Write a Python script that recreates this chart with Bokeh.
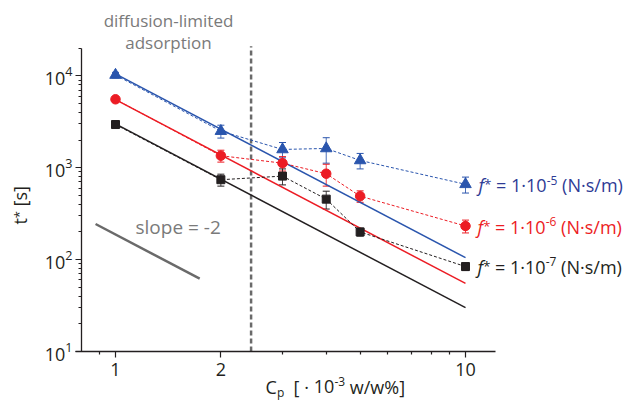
import math
from bokeh.plotting import figure
from bokeh.models import (Range1d, FixedTicker, PrintfTickFormatter, LogTickFormatter,
                          Whisker, ColumnDataSource, Label, TeeHead)
from bokeh.embed import file_html
from bokeh.resources import INLINE

# ---------------- data ----------------
conc = [1, 2, 3, 4, 5, 10]                       # C_p [1e-3 w/w%]
t_f5 = [10200, 2500, 1580, 1620, 1200, 660]      # f* = 1e-5 N s/m
t_f5_err = [700, 400, 300, 500, 230, 130]
t_f6 = [5550, 1350, 1120, 860, 490, 232]         # f* = 1e-6 N s/m
t_f6_err = [300, 200, 200, 230, 70, 37]
t_f7 = [2950, 740, 810, 455, 200, 84]            # f* = 1e-7 N s/m
t_f7_err = [150, 110, 160, 100, 20, 8]

fit_x = [1, 10]                                  # slope -2 fits
fit_f5 = [10500, 105]
fit_f6 = [5500, 55]
fit_f7 = [3000, 30]

slope_x = [0.877, 1.74]                          # slope = -2 guide
slope_y = [244, 62]

diff_limit_x = [2.44, 2.44]                      # diffusion-limited boundary
diff_limit_y = [10, 21000]

x_ticks = [1, 2, 10]
x_minor = [0.9, 3, 4, 5, 6, 7, 8, 9]
y_ticks = [10, 100, 1000, 10000]
y_minor = [m * d for d in (10, 100, 1000) for m in range(2, 10)] + [20000]

# ---------------- layout (pixels) ----------------
W, H = 629, 402
AXIS_X_PX, AXIS_Y_PX = 81, 351   # y-axis at x pixel, x-axis at y pixel
X1_PX, PXD_X = 115, 350.0        # pixel of x=1, pixels per decade
PXD_Y = 91.9                     # pixels per decade (y), y=10 at AXIS_Y_PX

def dx(px):
    return 10 ** ((px - X1_PX) / PXD_X)

def dy(py):
    return 10 ** (1 + (AXIS_Y_PX - py) / PXD_Y)

FONT = "Open Sans"
BLUE, RED, BLACK, GRAY = "#2a55ad", "#ec1c24", "#231f20", "#7a7a7a"
BLUE_TXT = "#2e3b95"

p = figure(width=W, height=H, x_axis_type="log", y_axis_type="log",
           x_range=Range1d(dx(0), dx(W)), y_range=Range1d(dy(H), dy(0)),
           output_backend="svg", toolbar_location=None,
           min_border_left=0, min_border_right=0, min_border_top=0, min_border_bottom=0)
p.outline_line_color = None
p.xgrid.visible = False
p.ygrid.visible = False

for ax in (p.xaxis, p.yaxis):
    ax.axis_line_color = BLACK
    ax.axis_line_width = 1.3
    ax.major_tick_line_color = BLACK
    ax.minor_tick_line_color = BLACK
    ax.major_tick_line_width = 1.2
    ax.minor_tick_line_width = 1.2
    ax.major_tick_in = 0
    ax.major_tick_out = 6
    ax.minor_tick_in = 0
    ax.minor_tick_out = 3
    ax.major_label_text_font = FONT
    ax.major_label_text_font_size = "18px"
    ax.major_label_text_color = BLACK

p.xaxis.fixed_location = dy(AXIS_Y_PX)
p.yaxis.fixed_location = dx(AXIS_X_PX)
p.xaxis.bounds = (0.77, 12.2)
p.yaxis.bounds = (10, 20000)
p.xaxis.ticker = FixedTicker(ticks=x_ticks, minor_ticks=x_minor)
p.yaxis.ticker = FixedTicker(ticks=y_ticks, minor_ticks=y_minor)
p.xaxis.formatter = PrintfTickFormatter(format="%d")
p.yaxis.formatter = LogTickFormatter()
p.xaxis.major_label_standoff = 5
p.yaxis.major_label_standoff = 3

# diffusion-limited boundary
p.line(diff_limit_x, diff_limit_y, line_color="#6a6a6a", line_width=2.5, line_dash="5 3")
# slope guide
p.line(slope_x, slope_y, line_color="#6a6a6a", line_width=2.5)

series = [
    (t_f5, t_f5_err, fit_f5, BLUE, "triangle", 11.5),
    (t_f6, t_f6_err, fit_f6, RED, "circle", 9.5),
    (t_f7, t_f7_err, fit_f7, BLACK, "square", 8),
]
for t, err, fit, col, mk, sz in series:
    p.line(fit_x, fit, line_color=col, line_width=1.5)
    p.line(conc, t, line_color=col, line_width=1, line_dash="3 2")
    src = ColumnDataSource(dict(x=conc, y=t,
                                up=[a + b for a, b in zip(t, err)],
                                lo=[a - b for a, b in zip(t, err)]))
    wk = Whisker(source=src, base="x", upper="up", lower="lo",
                 line_color=col, line_width=1, line_alpha=0.85,
                 upper_head=TeeHead(size=7, line_color=col, line_width=1),
                 lower_head=TeeHead(size=7, line_color=col, line_width=1))
    wk.level = "underlay"
    p.add_layout(wk)
    p.scatter(conc, t, marker=mk, size=sz, fill_color=col, line_color=col)

# ---------------- text ----------------
EM = {" ": .26, "=": .572, "1": .572, "0": .572, "2": .572, "3": .572, "5": .572,
      "6": .572, "7": .572, "·": .266, "(": .297, ")": .297, "N": .742, "s": .494,
      "/": .361, "m": .936, "f": .32, "*": .547, "-": .322, "[": .336, "]": .336,
      "C": .633, "p": .613, "w": .808, "%": .855, "t": .35}
BASE_SHIFT = 0.38   # baseline correction (fraction of font size)

def text_width(s, size):
    return sum(EM.get(c, .55) for c in s) * size

def add_text(px, py, text, size, color, italic=False, align="left", vertical=False):
    # (px, py) = start of the text on its baseline, in pixels
    if vertical:
        px = px - BASE_SHIFT * size
    else:
        py = py - BASE_SHIFT * size
    p.add_layout(Label(x=dx(px), y=dy(py), text=text, text_font=FONT,
                       text_font_size=f"{size}px", text_color=color,
                       text_font_style="italic" if italic else "normal",
                       text_align=align, text_baseline="alphabetic",
                       angle=math.pi / 2 if vertical else 0.0))

def add_run(px, py, pieces, color):
    # pieces: (text, size, raise, italic); leading spaces become gaps
    pos = px
    for txt, size, rise, it in pieces:
        lead = len(txt) - len(txt.lstrip(" "))
        pos += lead * EM[" "] * size
        txt = txt.strip(" ")
        add_text(pos, py - rise, txt, size, color, italic=it)
        pos += text_width(txt, size)

def add_vrun(px, py, pieces, color):
    pos = py
    for txt, size, rise, it in pieces:
        lead = len(txt) - len(txt.lstrip(" "))
        pos -= lead * EM[" "] * size
        txt = txt.strip(" ")
        add_text(px - rise, pos, txt, size, color, italic=it, vertical=True)
        pos -= text_width(txt, size)

def f_label(exp):
    return [("f", 18, 0, True), ("*", 13, 3, False), (" =", 18, 0, False),
            (" 1·10", 18, 0, False), (exp, 12, 7, False), (" (N·s/m)", 18, 0, False)]

add_run(478, 191.5, f_label("-5"), BLUE_TXT)
add_run(477, 233, f_label("-6"), RED)
add_run(477, 273, f_label("-7"), BLACK)

add_text(168, 26.5, "diffusion-limited", 17, GRAY, align="center")
add_text(168, 48.5, "adsorption", 17, GRAY, align="center")
add_text(135, 234, "slope = -2", 19, GRAY)

# x axis label
add_run(265, 393, [("C", 18, 0, False), ("p", 12, -4, False), ("  [", 18, 0, False),
                   (" ·", 18, 0, False), (" 10", 18, 0, False),
                   ("-3", 12, 7, False), (" w/w%]", 18, 0, False)], BLACK)

# y axis label (rotated, reading upwards)
add_vrun(26, 224, [("t", 18, 0, False), ("*", 13, 3, False), (" [s]", 18, 0, False)], BLACK)

open("out.html", "w").write(file_html(p, INLINE))
